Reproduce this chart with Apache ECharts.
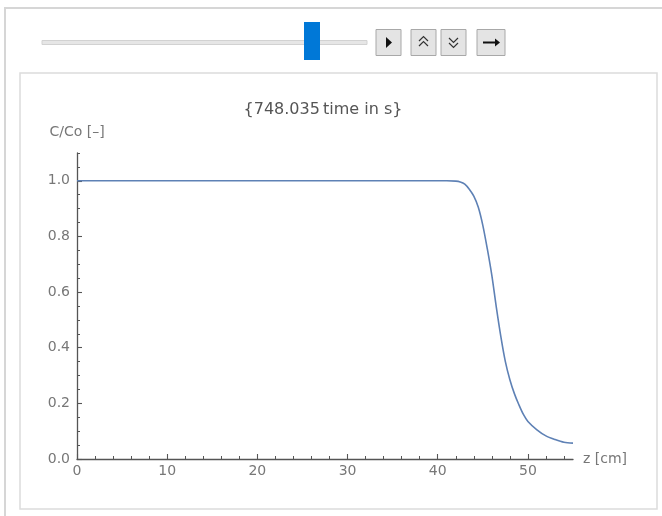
<!DOCTYPE html>
<html>
<head>
<meta charset="utf-8">
<title>C/Co vs z</title>
<script src="https://cdn.jsdelivr.net/npm/echarts@6/dist/echarts.min.js"></script>
<style>
  html, body { margin: 0; padding: 0; background: #fff; }
  #chart { width: 662px; height: 516px; }
</style>
</head>
<body>
<div id="chart"></div>
<script>
// breakthrough profile
const zData = [0, 10, 20, 30, 40, 41, 42, 42.5, 43, 43.5, 44, 44.5, 45, 45.5, 46, 46.5, 47, 47.5, 48, 48.5, 49, 49.5, 50, 51, 52, 53, 54, 55];
const cData = [1.0, 1.0, 1.0, 1.0, 1.0, 1.0, 0.999, 0.996, 0.988, 0.97, 0.945, 0.905, 0.84, 0.755, 0.66, 0.545, 0.44, 0.35, 0.285, 0.235, 0.195, 0.16, 0.135, 0.105, 0.083, 0.07, 0.06, 0.057];

const xTicks = [0, 10, 20, 30, 40, 50];
const xMinor = [2, 4, 6, 8, 12, 14, 16, 18, 22, 24, 26, 28, 32, 34, 36, 38, 42, 44, 46, 48, 52, 54];
const yTicks = [0, 0.2, 0.4, 0.6, 0.8, 1.0];
const yMinor = [0.05, 0.1, 0.15, 0.25, 0.3, 0.35, 0.45, 0.5, 0.55, 0.65, 0.7, 0.75, 0.85, 0.9, 0.95, 1.05, 1.1];

const titleText = '{748.035\u2009time in s}';

const axisColor = '#555';
const labelColor = '#777';
const font = 'DejaVu Sans, sans-serif';

// mathematica-ish controls above the plot
function button(x, w) {
  return {
    type: 'rect', shape: { x: x, y: 29.5, width: w, height: 26 },
    style: { fill: '#e4e4e4', stroke: '#a8a8a8', lineWidth: 1 }, z: 1
  };
}

const graphics = [
  // outer panel
  { type: 'rect', shape: { x: 5, y: 8, width: 700, height: 560 },
    style: { fill: 'none', stroke: '#d6d6d6', lineWidth: 2 }, z: 0 },
  // inner panel
  { type: 'rect', shape: { x: 20, y: 73, width: 637, height: 436 },
    style: { fill: '#fff', stroke: '#dcdcdc', lineWidth: 1.5 }, z: 0 },
  // slider track
  { type: 'rect', shape: { x: 42, y: 40.5, width: 325, height: 4 },
    style: { fill: '#e6e6e6', stroke: '#d2d2d2', lineWidth: 1 }, z: 1 },
  // slider thumb
  { type: 'rect', shape: { x: 304, y: 22, width: 16, height: 38 },
    style: { fill: '#0078d7' }, z: 2 },
  button(376, 25), button(411, 25), button(441, 25), button(477, 28),
  // play triangle
  { type: 'polygon', shape: { points: [[386, 37], [386, 48], [392, 42.5]] },
    style: { fill: '#111' }, z: 3 },
  // double up
  { type: 'polyline', shape: { points: [[419, 41], [423.5, 36.5], [428, 41]] },
    style: { stroke: '#333', lineWidth: 1.2, fill: 'none' }, z: 3 },
  { type: 'polyline', shape: { points: [[419, 46], [423.5, 41.5], [428, 46]] },
    style: { stroke: '#333', lineWidth: 1.2, fill: 'none' }, z: 3 },
  // double down
  { type: 'polyline', shape: { points: [[449, 38], [453.5, 42.5], [458, 38]] },
    style: { stroke: '#333', lineWidth: 1.2, fill: 'none' }, z: 3 },
  { type: 'polyline', shape: { points: [[449, 43], [453.5, 47.5], [458, 43]] },
    style: { stroke: '#333', lineWidth: 1.2, fill: 'none' }, z: 3 },
  // arrow
  { type: 'line', shape: { x1: 483, y1: 42.5, x2: 497, y2: 42.5 },
    style: { stroke: '#111', lineWidth: 2 }, z: 3 },
  { type: 'polygon', shape: { points: [[495, 38.5], [500, 42.5], [495, 46.5]] },
    style: { fill: '#111' }, z: 3 },
  // plot label
  { type: 'text', x: 323, y: 110, z: 3,
    style: { text: titleText, fill: '#555', font: '16px ' + font, align: 'center', verticalAlign: 'middle' } }
];

const chart = echarts.init(document.getElementById('chart'));

chart.setOption({
  animation: false,
  backgroundColor: '#fff',
  graphic: graphics,
  grid: { left: 77, right: 89, top: 153, bottom: 57 },
  xAxis: [
    {
      type: 'value', min: 0, max: 55, position: 'bottom',
      axisLine: { onZero: false, lineStyle: { color: axisColor, width: 1.3 } },
      axisTick: { inside: true, length: 5, customValues: xTicks, lineStyle: { color: axisColor, width: 1.1 } },
      axisLabel: { customValues: xTicks, margin: 5, color: labelColor, fontSize: 14, fontFamily: font },
      splitLine: { show: false },
      name: 'z [cm]', nameLocation: 'end', nameGap: 10,
      nameTextStyle: { color: labelColor, fontSize: 14, fontFamily: font }
    },
    {
      type: 'value', min: 0, max: 55, position: 'bottom',
      axisLine: { show: false },
      axisTick: { inside: true, length: 3, customValues: xMinor, lineStyle: { color: axisColor, width: 1 } },
      axisLabel: { show: false },
      splitLine: { show: false }
    }
  ],
  yAxis: [
    {
      type: 'value', min: 0, max: 1.1, position: 'left',
      axisLine: { show: true, onZero: false, lineStyle: { color: axisColor, width: 1.3 } },
      axisTick: { show: true, inside: true, length: 5, customValues: yTicks, lineStyle: { color: axisColor, width: 1.1 } },
      axisLabel: { customValues: yTicks, margin: 7, color: labelColor, fontSize: 14, fontFamily: font,
        formatter: v => v.toFixed(1) },
      splitLine: { show: false },
      name: 'C/Co [\u2013]', nameLocation: 'end', nameGap: 14,
      nameTextStyle: { color: labelColor, fontSize: 14, fontFamily: font, align: 'center' }
    },
    {
      type: 'value', min: 0, max: 1.1, position: 'left',
      axisLine: { show: false },
      axisTick: { show: true, inside: true, length: 3, customValues: yMinor, lineStyle: { color: axisColor, width: 1 } },
      axisLabel: { show: false },
      splitLine: { show: false }
    }
  ],
  series: [
    {
      type: 'line',
      xAxisIndex: 0, yAxisIndex: 0,
      data: zData.map((z, i) => [z, cData[i]]),
      showSymbol: false,
      smooth: 0.3,
      lineStyle: { color: '#5e81b5', width: 1.6 },
      z: 5
    }
  ]
});
</script>
</body>
</html>
